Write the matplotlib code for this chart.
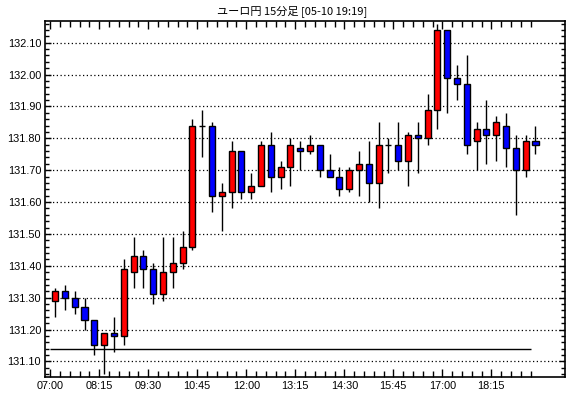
import matplotlib
matplotlib.use("Agg")
import matplotlib.pyplot as plt
from matplotlib.patches import Rectangle
from matplotlib.ticker import MultipleLocator, FixedLocator

title = "ユーロ円 15分足 [05-10 19:19]"
time_labels = ["07:00", "08:15", "09:30", "10:45", "12:00", "13:15", "14:30", "15:45", "17:00", "18:15"]

opens = [131.29, 131.32, 131.30, 131.27, 131.23, 131.15, 131.19, 131.18, 131.38, 131.43,
         131.39, 131.31, 131.38, 131.41, 131.46, 131.84, 131.84, 131.62, 131.63, 131.76,
         131.63, 131.65, 131.78, 131.68, 131.71, 131.77, 131.76, 131.78, 131.70, 131.68,
         131.64, 131.70, 131.72, 131.66, 131.78, 131.78, 131.73, 131.81, 131.80, 131.89,
         132.14, 131.99, 131.97, 131.79, 131.83, 131.81, 131.84, 131.77, 131.70, 131.79]
highs = [131.33, 131.34, 131.32, 131.30, 131.23, 131.19, 131.24, 131.42, 131.49, 131.45,
         131.41, 131.49, 131.49, 131.51, 131.86, 131.89, 131.85, 131.66, 131.79, 131.76,
         131.69, 131.79, 131.82, 131.73, 131.80, 131.79, 131.81, 131.78, 131.75, 131.71,
         131.71, 131.76, 131.79, 131.85, 131.80, 131.85, 131.82, 131.85, 131.94, 132.16,
         132.14, 132.03, 132.06, 131.85, 131.92, 131.87, 131.88, 131.81, 131.81, 131.84]
lows = [131.24, 131.26, 131.25, 131.20, 131.12, 131.06, 131.13, 131.15, 131.33, 131.33,
        131.28, 131.29, 131.33, 131.39, 131.45, 131.74, 131.57, 131.51, 131.58, 131.61,
        131.61, 131.65, 131.63, 131.64, 131.65, 131.70, 131.75, 131.68, 131.68, 131.62,
        131.63, 131.62, 131.60, 131.58, 131.69, 131.70, 131.65, 131.69, 131.78, 131.83,
        131.88, 131.92, 131.75, 131.70, 131.72, 131.73, 131.71, 131.56, 131.68, 131.75]
closes = [131.32, 131.30, 131.27, 131.23, 131.15, 131.19, 131.18, 131.39, 131.43, 131.39,
          131.31, 131.38, 131.41, 131.46, 131.84, 131.84, 131.62, 131.63, 131.76, 131.63,
          131.65, 131.78, 131.68, 131.71, 131.78, 131.76, 131.78, 131.70, 131.68, 131.64,
          131.70, 131.72, 131.66, 131.78, 131.78, 131.73, 131.81, 131.80, 131.89, 132.14,
          131.99, 131.97, 131.78, 131.83, 131.81, 131.85, 131.77, 131.70, 131.79, 131.78]
ref_level = 131.14

fig = plt.figure(figsize=(5.70, 3.98), dpi=100)
ax = fig.add_axes([0.0795, 0.0535, 0.9115, 0.8945])

n = len(opens)
w = 0.62
for i in range(n):
    o, h, l, c = opens[i], highs[i], lows[i], closes[i]
    ax.plot([i, i], [l, h], color="black", lw=1.0, zorder=2, solid_capstyle="butt")
    if c > o:
        col = "#ff0000"
    elif c < o:
        col = "#0000ff"
    else:
        col = "black"
    bottom = min(o, c)
    height = abs(c - o)
    ax.add_patch(Rectangle((i - w / 2, bottom), w, height, facecolor=col,
                           edgecolor="black", lw=1.0, zorder=3))

ax.hlines(ref_level, -0.5, n - 1.5, color="black", lw=1.0, zorder=2)

ax.set_xlim(-1.0, 52.0)
ax.set_ylim(131.052, 132.169)

# grid
for k in range(11):
    yv = 131.10 + 0.10 * k
    ax.axhline(yv, color="black", lw=0.9, linestyle=(0, (1, 2)), zorder=1)

ax.yaxis.set_major_locator(FixedLocator([131.10 + 0.10 * k for k in range(11)]))
ax.set_yticklabels([f"{131.10 + 0.10 * k:.2f}" for k in range(11)])
ax.yaxis.set_minor_locator(MultipleLocator(0.02))

major_x = [-0.5 + 5 * k for k in range(len(time_labels))]
ax.xaxis.set_major_locator(FixedLocator(major_x))
ax.set_xticklabels(time_labels)
ax.xaxis.set_minor_locator(FixedLocator([-0.5 + k for k in range(n)]))

ax.tick_params(axis="both", which="both", direction="in", color="black",
               labelsize=7.8, width=1.0, pad=3)
ax.tick_params(axis="x", which="major", length=6, top=True, bottom=True)
ax.tick_params(axis="x", which="minor", length=4, top=True, bottom=True)
ax.tick_params(axis="y", which="major", length=4, left=True, right=True)
ax.tick_params(axis="y", which="minor", length=3, left=True, right=True)
for lab in ax.get_xticklabels() + ax.get_yticklabels():
    lab.set_family(["Liberation Sans", "DejaVu Sans"])

for sp in ax.spines.values():
    sp.set_linewidth(1.2)
    sp.set_color("black")

fig.text(0.512, 0.972, title, ha="center", va="center", fontsize=8.0,
         family=["Noto Sans CJK JP", "DejaVu Sans"])

fig.savefig("out.png", dpi=100)
